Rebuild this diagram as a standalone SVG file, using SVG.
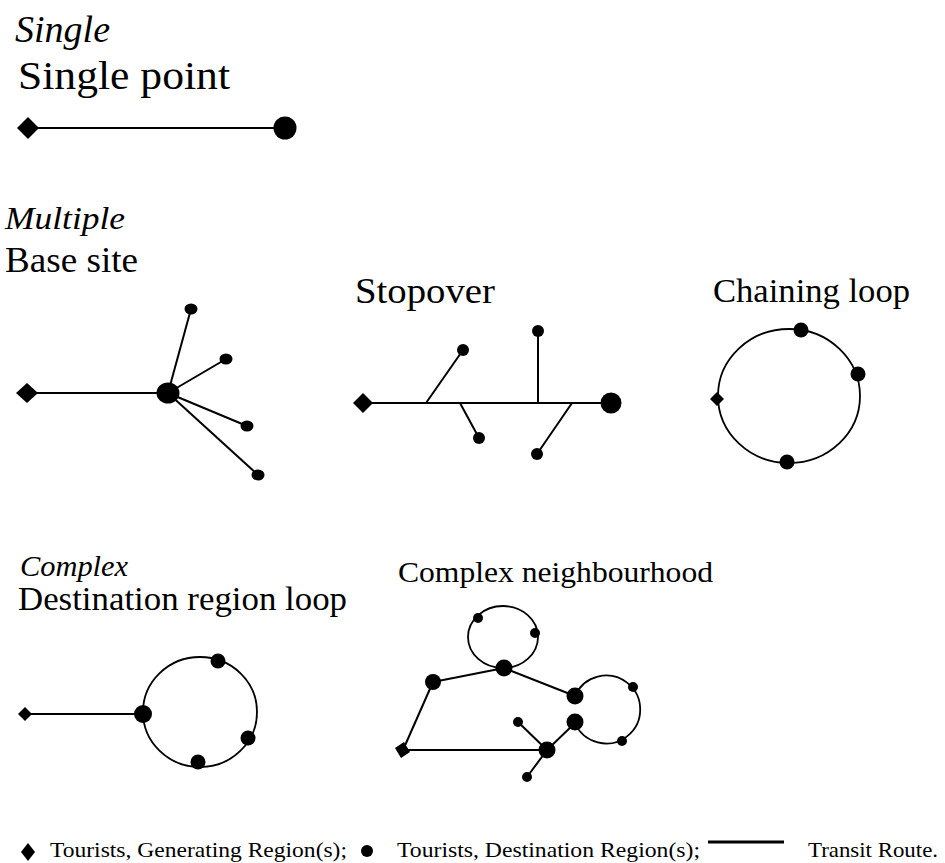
<svg xmlns="http://www.w3.org/2000/svg" width="945" height="863" viewBox="0 0 945 863">
<style>
.t{font-family:'Liberation Serif','Times New Roman',serif;fill:#000}
.it{font-style:italic}
.ln{stroke:#000;stroke-width:2;fill:none}
.lp{stroke:#000;stroke-width:1.8;fill:none}
.n{fill:#000}
</style>
<rect width="945" height="863" fill="#fff"/>
<g id="labels">
<text class="t it" x="15" y="42" font-size="37" textLength="95" lengthAdjust="spacingAndGlyphs">Single</text>
<text class="t" x="18" y="89" font-size="40" textLength="212" lengthAdjust="spacingAndGlyphs">Single point</text>
<text class="t it" x="5" y="229" font-size="32" textLength="120" lengthAdjust="spacingAndGlyphs">Multiple</text>
<text class="t" x="5" y="272" font-size="36" textLength="133" lengthAdjust="spacingAndGlyphs">Base site</text>
<text class="t" x="355" y="303" font-size="36" textLength="140" lengthAdjust="spacingAndGlyphs">Stopover</text>
<text class="t" x="713" y="302" font-size="34" textLength="197" lengthAdjust="spacingAndGlyphs">Chaining loop</text>
<text class="t it" x="20" y="576" font-size="30" textLength="108" lengthAdjust="spacingAndGlyphs">Complex</text>
<text class="t" x="18" y="610" font-size="34" textLength="329" lengthAdjust="spacingAndGlyphs">Destination region loop</text>
<text class="t" x="398" y="582" font-size="30" textLength="315" lengthAdjust="spacingAndGlyphs">Complex neighbourhood</text>
</g>
<g id="connectors">
<line class="ln" x1="28" y1="128" x2="284" y2="128"/>
<line class="ln" x1="27" y1="393" x2="168" y2="393"/>
<line class="ln" x1="168" y1="393" x2="191" y2="309"/>
<line class="ln" x1="168" y1="393" x2="226" y2="359"/>
<line class="ln" x1="168" y1="393" x2="247" y2="426"/>
<line class="ln" x1="168" y1="393" x2="258" y2="475"/>
<line class="ln" x1="363" y1="403" x2="611" y2="403"/>
<line class="ln" x1="426" y1="403" x2="463" y2="350"/>
<line class="ln" x1="460" y1="403" x2="479" y2="438"/>
<line class="ln" x1="538" y1="403" x2="538" y2="331"/>
<line class="ln" x1="572" y1="403" x2="537" y2="454"/>
<ellipse class="lp" cx="789" cy="396" rx="71" ry="67"/>
<line class="ln" x1="25" y1="714" x2="143" y2="714"/>
<ellipse class="lp" cx="200" cy="712" rx="57" ry="55"/>
<ellipse class="lp" cx="503" cy="637" rx="35" ry="31"/>
<path class="lp" d="M575 696 A34 34 0 1 1 575 723"/>
<line class="ln" x1="433" y1="682" x2="504" y2="668"/>
<line class="ln" x1="504" y1="668" x2="575" y2="696"/>
<line class="ln" x1="433" y1="682" x2="403" y2="750"/>
<line class="ln" x1="403" y1="750" x2="547" y2="750"/>
<line class="ln" x1="547" y1="750" x2="575" y2="723"/>
<line class="ln" x1="547" y1="750" x2="518" y2="722"/>
<line class="ln" x1="547" y1="750" x2="527" y2="777"/>
</g>
<g id="single-origin"><polygon class="n" points="17,128 28,117 39,128 28,139"/></g>
<g id="single-dest"><circle class="n" cx="285" cy="128" r="11.5"/></g>
<g id="base-origin"><polygon class="n" points="16,393 27,383 38,393 27,403"/></g>
<g id="base-hub"><ellipse class="n" cx="168" cy="393" rx="11.5" ry="10.5"/></g>
<g id="base-s1"><ellipse class="n" cx="191" cy="309" rx="6.5" ry="5.5"/></g>
<g id="base-s2"><ellipse class="n" cx="226" cy="359" rx="6.5" ry="5.5"/></g>
<g id="base-s3"><ellipse class="n" cx="247" cy="426" rx="6.5" ry="5.5"/></g>
<g id="base-s4"><ellipse class="n" cx="258" cy="475" rx="6.5" ry="5.5"/></g>
<g id="stop-origin"><polygon class="n" points="353,403 363,393 373,403 363,413"/></g>
<g id="stop-dest"><circle class="n" cx="611" cy="403" r="10.5"/></g>
<g id="stop-s1"><circle class="n" cx="463" cy="350" r="6"/></g>
<g id="stop-s2"><circle class="n" cx="479" cy="438" r="6"/></g>
<g id="stop-s3"><circle class="n" cx="538" cy="331" r="6"/></g>
<g id="stop-s4"><circle class="n" cx="537" cy="454" r="6"/></g>
<g id="chain-origin"><polygon class="n" points="710,399 717,392 724,399 717,406"/></g>
<g id="chain-d1"><circle class="n" cx="801" cy="330" r="7.5"/></g>
<g id="chain-d2"><circle class="n" cx="858" cy="374" r="7.5"/></g>
<g id="chain-d3"><circle class="n" cx="787" cy="462" r="7.5"/></g>
<g id="drl-origin"><polygon class="n" points="18,714 25,707 32,714 25,721"/></g>
<g id="drl-entry"><circle class="n" cx="143" cy="714" r="9"/></g>
<g id="drl-d1"><circle class="n" cx="218" cy="661" r="7.5"/></g>
<g id="drl-d2"><circle class="n" cx="248" cy="738" r="7.5"/></g>
<g id="drl-d3"><circle class="n" cx="198" cy="762" r="7.5"/></g>
<g id="cn-origin"><polygon class="n" points="395,748 404,742 410,752 401,758"/></g>
<g id="cn-a"><circle class="n" cx="504" cy="668" r="8.5"/></g>
<g id="cn-a1"><circle class="n" cx="478" cy="618" r="5"/></g>
<g id="cn-a2"><circle class="n" cx="535" cy="633" r="5"/></g>
<g id="cn-b"><circle class="n" cx="433" cy="682" r="8"/></g>
<g id="cn-c"><circle class="n" cx="575" cy="696" r="8.5"/></g>
<g id="cn-d"><circle class="n" cx="575" cy="722" r="8.5"/></g>
<g id="cn-c1"><circle class="n" cx="633" cy="687" r="5"/></g>
<g id="cn-c2"><circle class="n" cx="622" cy="741" r="5"/></g>
<g id="cn-e"><circle class="n" cx="547" cy="750" r="8.5"/></g>
<g id="cn-f"><circle class="n" cx="518" cy="722" r="5"/></g>
<g id="cn-g"><circle class="n" cx="527" cy="777" r="5"/></g>
<g id="legend">
<polygon class="n" points="21,852 28,843 35,852 28,861"/>
<text class="t" x="50" y="857" font-size="22" textLength="297" lengthAdjust="spacingAndGlyphs">Tourists, Generating Region(s);</text>
<circle class="n" cx="367" cy="851" r="6"/>
<text class="t" x="397" y="857" font-size="22" textLength="303" lengthAdjust="spacingAndGlyphs">Tourists, Destination Region(s);</text>
<line x1="708" y1="842" x2="784" y2="842" stroke="#000" stroke-width="3"/>
<text class="t" x="808" y="857" font-size="22" textLength="130" lengthAdjust="spacingAndGlyphs">Transit Route.</text>
</g>
</svg>
